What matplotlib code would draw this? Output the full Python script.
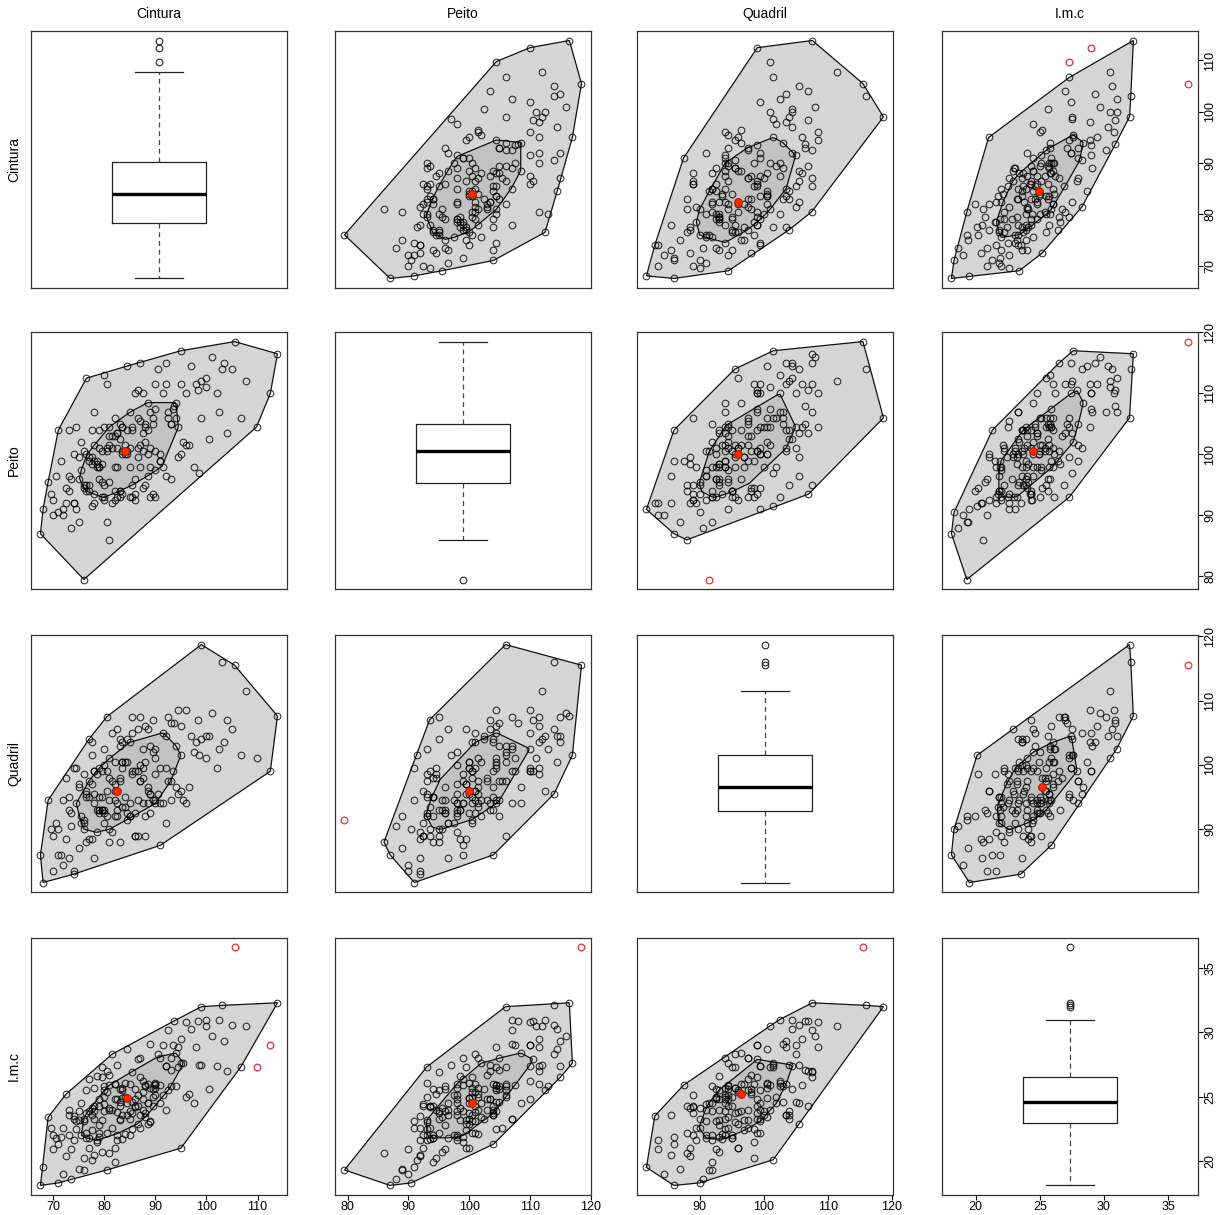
import matplotlib
matplotlib.use("Agg")
import matplotlib.pyplot as plt
import numpy as np
from matplotlib.path import Path
from matplotlib.ticker import MultipleLocator

plt.rcParams["font.family"] = ["Liberation Sans", "DejaVu Sans"]

names = ["Cintura", "Peito", "Quadril", "I.m.c"]

cintura = [
    67.5, 68.0, 76.0, 76.5, 69.0, 70.0, 70.5, 71.0, 71.5, 72.0,
    72.0, 72.5, 73.0, 73.0, 73.5, 74.0, 74.0, 74.5, 74.5, 75.0,
    75.0, 75.5, 75.5, 76.0, 76.0, 76.0, 76.5, 76.5, 77.0, 77.0,
    77.0, 77.0, 77.5, 77.5, 77.5, 78.0, 78.0, 78.0, 78.0, 78.0,
    69.5, 71.0, 72.5, 73.5, 74.0, 75.0, 76.5, 77.5, 73.0, 70.0,
    78.5, 78.5, 79.0, 79.0, 79.0, 79.5, 79.5, 79.5, 80.0, 80.0,
    80.0, 80.5, 80.5, 80.5, 81.0, 81.0, 81.0, 81.5, 81.5, 81.5,
    82.0, 82.0, 82.0, 82.0, 82.5, 82.5, 82.5, 82.5, 83.0, 83.0,
    83.0, 83.0, 83.5, 83.5, 83.5, 83.5, 84.0, 79.0, 80.0, 81.0,
    82.0, 79.5, 80.5, 83.0, 78.5, 82.5, 81.0, 83.5, 80.0, 79.0,
    84.0, 84.0, 84.5, 84.5, 84.5, 85.0, 85.0, 85.0, 85.5, 85.5,
    85.5, 86.0, 86.0, 86.0, 86.5, 86.5, 86.5, 87.0, 87.0, 87.0,
    87.5, 87.5, 87.5, 88.0, 88.0, 88.0, 88.5, 88.5, 88.5, 89.0,
    89.0, 89.0, 89.5, 89.5, 89.5, 90.0, 90.0, 90.0, 90.0, 85.0,
    86.0, 87.0, 88.0, 89.0, 84.5, 85.5, 86.5, 88.5, 87.5, 90.0,
    105.5, 99.0, 112.5, 109.8, 95.0, 113.9, 107.7, 103.0, 91.0, 91.0,
    91.5, 91.5, 92.0, 92.0, 92.5, 92.5, 93.0, 93.0, 93.5, 93.7,
    94.0, 94.0, 94.5, 95.0, 95.0, 95.5, 96.0, 96.5, 97.0, 97.6,
    98.0, 98.3, 99.0, 100.0, 100.5, 101.0, 102.0, 103.5, 104.0, 105.0,
    106.7, 91.0, 92.0, 93.0, 96.0, 98.5, 90.5, 94.5, 102.5, 100.0,
]
peito = [
    87.0, 91.0, 79.5, 112.5, 95.5, 90.0, 96.5, 90.5, 99.0, 91.0,
    90.0, 94.5, 96.5, 94.0, 88.0, 100.0, 92.0, 104.5, 91.0, 89.0,
    96.0, 97.5, 102.0, 94.5, 95.0, 100.5, 100.0, 94.0, 94.0, 95.0,
    99.5, 99.0, 99.5, 98.5, 91.5, 99.0, 101.5, 92.0, 93.5, 107.0,
    93.5, 104.0, 92.0, 96.0, 92.0, 99.5, 95.0, 104.0, 104.0, 92.5,
    99.0, 98.5, 98.0, 98.0, 101.0, 98.5, 100.5, 95.5, 93.0, 104.5,
    92.5, 100.5, 101.0, 89.0, 104.5, 101.5, 95.5, 101.0, 103.0, 92.0,
    92.5, 98.0, 103.0, 106.0, 93.0, 103.5, 103.5, 98.0, 94.0, 102.5,
    94.0, 105.0, 100.0, 93.5, 104.5, 104.5, 100.5, 104.0, 113.0, 86.0,
    94.0, 93.0, 111.5, 93.0, 98.0, 101.0, 103.0, 100.5, 95.0, 96.0,
    100.0, 101.5, 100.5, 104.0, 100.0, 98.0, 101.0, 107.0, 104.0, 93.0,
    104.5, 96.0, 110.0, 92.5, 99.5, 101.0, 110.5, 105.5, 101.5, 98.0,
    100.5, 103.5, 94.5, 102.0, 105.0, 104.5, 104.0, 96.5, 108.5, 98.0,
    101.0, 107.0, 106.0, 105.0, 93.5, 107.5, 100.5, 111.5, 93.0, 93.0,
    93.5, 115.0, 95.0, 93.0, 114.5, 95.0, 106.0, 100.0, 110.0, 97.5,
    118.5, 106.0, 110.0, 104.5, 100.0, 116.5, 112.0, 114.0, 99.0, 100.0,
    110.0, 98.0, 111.5, 96.5, 107.0, 106.0, 105.0, 105.0, 107.5, 108.0,
    106.0, 108.5, 99.5, 111.5, 117.0, 102.0, 110.0, 101.5, 114.5, 98.0,
    111.5, 110.5, 112.0, 111.0, 102.5, 116.0, 110.0, 115.0, 103.5, 114.0,
    106.0, 99.0, 115.0, 96.0, 101.5, 97.0, 114.0, 104.5, 107.0, 112.5,
]
quadril = [
    86.0, 81.7, 91.5, 96.0, 94.5, 83.5, 91.0, 90.0, 86.0, 94.5,
    84.5, 98.0, 85.5, 95.0, 90.5, 99.5, 83.0, 94.0, 99.5, 87.0,
    96.5, 91.0, 92.0, 98.5, 90.0, 91.0, 95.5, 95.0, 95.0, 104.0,
    88.5, 97.5, 97.0, 88.5, 101.5, 94.0, 95.5, 85.5, 99.0, 99.0,
    90.0, 86.0, 88.5, 92.5, 83.5, 97.0, 88.0, 103.5, 93.0, 89.0,
    98.5, 93.0, 93.0, 92.5, 99.5, 93.0, 99.0, 93.0, 92.5, 100.0,
    91.0, 99.0, 96.0, 92.0, 94.5, 101.0, 90.0, 105.0, 97.5, 89.5,
    96.0, 97.0, 94.5, 100.5, 92.0, 93.0, 105.5, 94.0, 98.0, 104.0,
    88.0, 103.0, 100.5, 93.5, 99.5, 100.5, 95.0, 95.0, 102.5, 88.0,
    92.0, 95.0, 107.5, 97.5, 89.5, 96.0, 98.0, 103.5, 93.0, 93.0,
    100.5, 93.5, 91.5, 104.0, 92.5, 92.0, 103.5, 94.0, 99.0, 98.5,
    105.0, 92.5, 99.0, 89.0, 105.5, 94.5, 99.0, 97.5, 97.5, 100.0,
    98.0, 94.0, 99.5, 100.5, 92.0, 106.0, 96.5, 105.5, 94.0, 95.5,
    92.5, 103.0, 102.0, 94.5, 107.0, 101.0, 94.0, 98.5, 102.5, 92.0,
    89.0, 107.5, 89.0, 95.5, 100.5, 107.5, 89.0, 96.0, 102.5, 94.5,
    115.5, 118.7, 99.0, 101.0, 96.0, 107.6, 111.5, 116.0, 94.0, 99.5,
    105.0, 94.0, 99.5, 91.0, 107.5, 97.5, 97.5, 106.5, 99.0, 106.5,
    103.0, 96.5, 95.5, 106.0, 101.5, 94.5, 108.5, 96.5, 104.5, 102.0,
    103.5, 107.0, 104.0, 101.0, 104.5, 108.0, 99.5, 103.5, 107.0, 105.5,
    101.5, 87.5, 104.5, 94.5, 94.0, 101.5, 95.5, 108.5, 102.5, 104.5,
]
imc = [
    18.1, 19.5, 19.3, 25.5, 23.4, 20.9, 21.8, 18.3, 21.9, 22.6,
    19.0, 25.2, 23.6, 22.0, 18.6, 23.3, 23.5, 22.5, 23.1, 19.4,
    23.9, 22.0, 24.5, 20.2, 23.3, 23.1, 23.7, 21.8, 21.8, 23.9,
    21.0, 26.4, 22.4, 24.1, 20.1, 23.9, 25.7, 20.5, 24.3, 23.3,
    22.6, 21.3, 20.4, 20.9, 21.6, 23.2, 22.2, 23.6, 24.0, 22.0,
    21.5, 26.6, 21.9, 24.8, 22.2, 23.2, 26.5, 20.7, 25.0, 23.9,
    24.4, 22.2, 25.4, 19.3, 25.9, 24.0, 24.1, 28.3, 24.0, 22.6,
    21.0, 26.0, 24.8, 26.0, 21.6, 24.8, 27.5, 22.0, 25.6, 23.3,
    24.3, 24.6, 24.9, 21.7, 25.5, 25.7, 25.0, 24.3, 25.8, 20.6,
    19.9, 27.3, 27.0, 23.2, 21.6, 23.8, 26.7, 23.6, 25.5, 22.8,
    26.1, 22.1, 24.5, 23.6, 24.9, 23.9, 26.0, 23.3, 23.7, 22.5,
    24.6, 25.6, 24.8, 24.3, 22.9, 24.3, 27.9, 22.6, 28.0, 23.6,
    25.4, 24.8, 24.0, 23.4, 25.8, 25.9, 26.0, 24.5, 24.5, 25.7,
    23.1, 29.1, 25.0, 25.6, 24.3, 25.9, 25.7, 26.0, 26.1, 22.0,
    24.2, 26.5, 23.7, 23.0, 28.7, 26.9, 25.1, 22.9, 26.2, 25.1,
    36.6, 32.0, 29.0, 27.3, 21.0, 32.3, 30.5, 32.1, 28.0, 24.5,
    29.0, 25.1, 27.4, 24.0, 30.2, 25.5, 28.0, 27.1, 29.0, 30.9,
    25.8, 28.4, 27.3, 29.5, 27.6, 27.6, 30.8, 25.2, 30.3, 24.5,
    28.9, 30.9, 27.5, 30.5, 25.6, 29.7, 27.4, 29.3, 27.0, 30.6,
    27.3, 25.9, 27.4, 25.8, 25.0, 27.5, 28.3, 28.9, 31.0, 31.0,
]
tick_step = [10, 10, 10, 5]

data = [np.array(v) for v in (cintura, peito, quadril, imc)]


def lims(v):
    pad = 0.04 * (v.max() - v.min())
    return v.min() - pad, v.max() + pad


def cross(o, a, b):
    return (a[0] - o[0]) * (b[1] - o[1]) - (a[1] - o[1]) * (b[0] - o[0])


def convex_hull(pts):
    pts = sorted(set(map(tuple, pts)))
    lower, upper = [], []
    for p in pts:
        while len(lower) >= 2 and cross(lower[-2], lower[-1], p) <= 0:
            lower.pop()
        lower.append(p)
    for p in reversed(pts):
        while len(upper) >= 2 and cross(upper[-2], upper[-1], p) <= 0:
            upper.pop()
        upper.append(p)
    return np.array(lower[:-1] + upper[:-1])


def halfspace_depth(q):
    n = len(q)
    ang = np.linspace(0, np.pi, 360, endpoint=False)
    z = q @ np.c_[np.cos(ang), np.sin(ang)].T
    d = np.full(n, n)
    for j in range(z.shape[1]):
        s = np.sort(z[:, j])
        le = np.searchsorted(s, z[:, j], "right")
        ge = n - np.searchsorted(s, z[:, j], "left")
        d = np.minimum(d, np.minimum(le, ge))
    return d


def ray_dist(poly, c, th):
    a = poly
    e = np.roll(poly, -1, axis=0) - a
    u = np.array([np.cos(th), np.sin(th)])
    dd = a - c
    den = -u[0] * e[:, 1] + e[:, 0] * u[1]
    with np.errstate(divide="ignore", invalid="ignore"):
        t = (-dd[:, 0] * e[:, 1] + e[:, 0] * dd[:, 1]) / den
        s = (u[0] * dd[:, 1] - dd[:, 0] * u[1]) / den
    ok = (np.abs(den) > 1e-12) & (s >= -1e-9) & (s <= 1 + 1e-9) & (t > 0)
    return t[ok].max()


def bagplot(ax, x, y):
    p = np.c_[x, y]
    m, sd = p.mean(0), p.std(0)
    q = (p - m) / sd
    n = len(q)
    d = halfspace_depth(q)
    k = max(k for k in range(1, d.max() + 1) if (d >= k).sum() >= n / 2)
    c = q[d == d.max()].mean(0)
    h1 = convex_hull(q[d >= k])
    n1, n2 = (d >= k).sum(), (d >= k + 1).sum()
    if n2 >= 3:
        h2 = convex_hull(q[d >= k + 1])
        lam = (n / 2 - n2) / (n1 - n2)
    else:
        h2, lam = h1, 1.0
    th = np.linspace(0, 2 * np.pi, 240, endpoint=False)
    r1 = np.array([ray_dist(h1, c, t) for t in th])
    r2 = np.array([ray_dist(h2, c, t) for t in th])
    r = r2 + lam * (r1 - r2)
    bag = c + r[:, None] * np.c_[np.cos(th), np.sin(th)]
    fence = c + 3 * (bag - c)
    out = ~Path(fence).contains_points(q)
    loop = convex_hull(q[~out])

    loop = loop * sd + m
    bag = bag * sd + m
    c = c * sd + m
    ax.fill(loop[:, 0], loop[:, 1], fc="#D5D5D5", ec="#111111", lw=0.9, zorder=1)
    ax.fill(bag[:, 0], bag[:, 1], fc="#C2C2C2", ec="#111111", lw=0.9, zorder=2)
    ax.plot(x[~out], y[~out], "o", mfc="none", mec=(0, 0, 0, 0.78), ms=4.8, mew=0.8, zorder=3)
    ax.plot(x[out], y[out], "o", mfc="none", mec="#E0303A", ms=4.8, mew=0.9, zorder=3)
    ax.plot(c[0], c[1], "o", mfc="#FF2A00", mec="#C01800", ms=5.5, mew=0.8, zorder=4)


def boxpanel(ax, v):
    lo, hi = lims(v)
    mid, wd = (lo + hi) / 2, 0.37 * (hi - lo)
    ax.boxplot(v, positions=[mid], widths=wd, whis=1.5, manage_ticks=False,
               capwidths=wd * 0.5,
               boxprops=dict(color="#222222", lw=0.9),
               medianprops=dict(color="black", lw=2.4),
               whiskerprops=dict(color="#444444", lw=0.9, ls=(0, (4, 3))),
               capprops=dict(color="#222222", lw=0.9),
               flierprops=dict(marker="o", mfc="none", mec="#222222", ms=4.8, mew=0.8))


fig = plt.figure(figsize=(12.2, 12.15), dpi=100)
lefts = [0.0254, 0.2746, 0.5221, 0.7721]
bottoms = [0.7630, 0.5152, 0.2658, 0.0165]
w, h = 0.2098, 0.2115

for i in range(4):
    for j in range(4):
        ax = fig.add_axes([lefts[j], bottoms[i], w, h])
        if i == j:
            boxpanel(ax, data[i])
        else:
            bagplot(ax, data[j], data[i])
        ax.set_xlim(lims(data[j]))
        ax.set_ylim(lims(data[i]))
        ax.xaxis.set_major_locator(MultipleLocator(tick_step[j]))
        ax.yaxis.set_major_locator(MultipleLocator(tick_step[i]))
        ax.tick_params(left=False, labelleft=False, top=False,
                       bottom=(i == 3), labelbottom=(i == 3),
                       right=(j == 3), labelright=(j == 3),
                       length=3.5, width=0.8, labelsize=9, pad=1)
        if j == 3:
            for lab in ax.get_yticklabels():
                lab.set_rotation(90)
                lab.set_va("center")
        for sp in ax.spines.values():
            sp.set_linewidth(0.9)
            sp.set_color("#333333")
        if i == 0:
            fig.text(lefts[j] + w / 2, 1 - 14 / 1215, names[j],
                     ha="center", va="center", fontsize=10)
        if j == 0:
            fig.text(14 / 1220, bottoms[i] + h / 2, names[i], rotation=90,
                     ha="center", va="center", fontsize=10)

fig.savefig("out.png", dpi=100)
